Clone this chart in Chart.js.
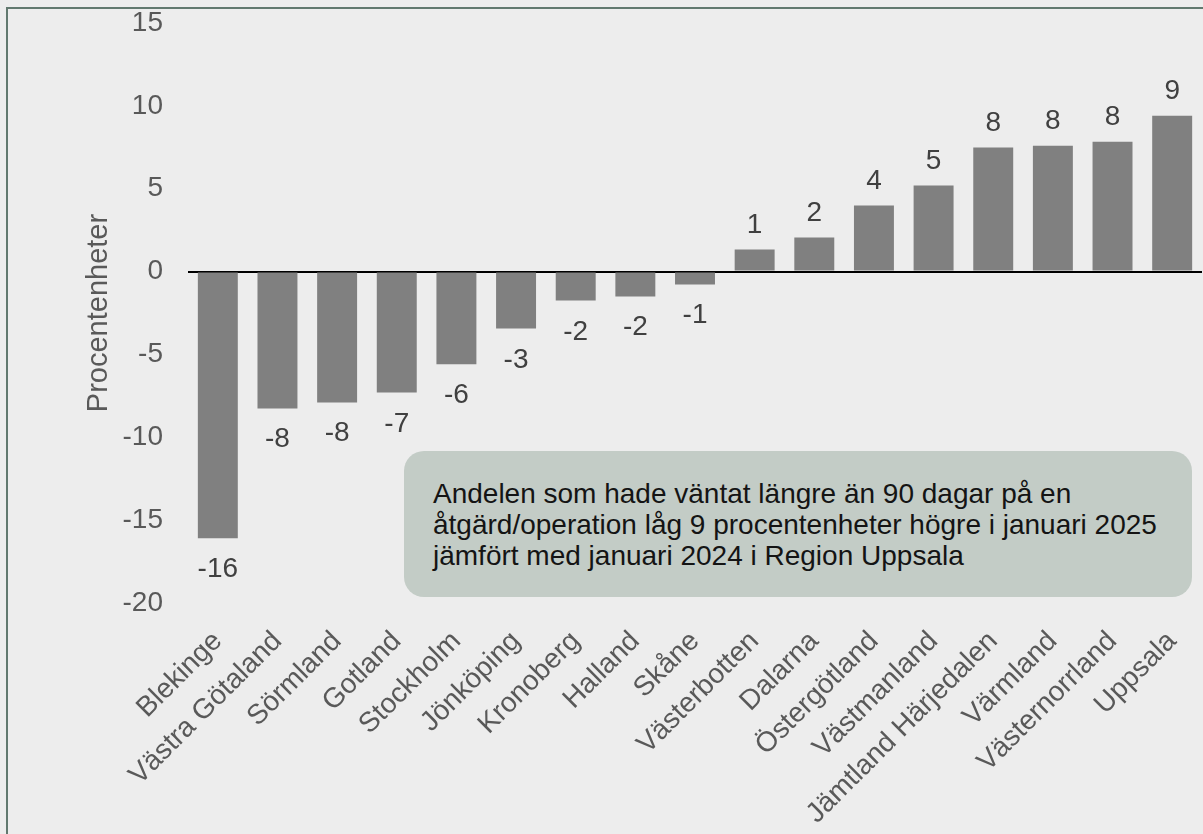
<!DOCTYPE html>
<html>
<head>
<meta charset="utf-8">
<script src="https://cdn.jsdelivr.net/npm/chart.js@4.4.1/dist/chart.umd.min.js"></script>
<style>
  body { margin: 0; background: #ededed; }
  #wrap { position: relative; width: 1203px; height: 834px; overflow: hidden; background: #ededed; }
  #frame { position: absolute; left: 6px; top: 7px; width: 1300px; height: 900px;
           border-left: 2px solid #62796f; border-top: 2px solid #62796f; }
  #chart { position: absolute; left: 0; top: 0; }
  #note { position: absolute; left: 404px; top: 451px; width: 759px; height: 119px;
          padding: 27px 0 0 29px; background: #c3ccc6; border-radius: 20px;
          font-family: "Liberation Sans", Arial, sans-serif; font-size: 28px; line-height: 31px;
          color: #141414; white-space: nowrap; }
</style>
</head>
<body>
<div id="wrap">
  <div id="frame"></div>
  <canvas id="chart" width="1203" height="834"></canvas>
  <div id="note">Andelen som hade väntat längre än 90 dagar på en<br>åtgärd/operation låg 9 procentenheter högre i januari 2025<br>jämfört med januari 2024 i Region Uppsala</div>
</div>
<script>
var regions = ['Blekinge', 'Västra Götaland', 'Sörmland', 'Gotland', 'Stockholm', 'Jönköping',
    'Kronoberg', 'Halland', 'Skåne', 'Västerbotten', 'Dalarna', 'Östergötland', 'Västmanland',
    'Jämtland Härjedalen', 'Värmland', 'Västernorrland', 'Uppsala'];
// change in percentage points, jan 2024 -> jan 2025
var change = [-16.1, -8.26, -7.9, -7.3, -5.6, -3.44, -1.75, -1.5, -0.78,
    1.33, 2.05, 3.98, 5.19, 7.48, 7.6, 7.84, 9.4];
// labels as printed above/below the bars
var changeLabels = [-16, -8, -8, -7, -6, -3, -2, -2, -1, 1, 2, 4, 5, 8, 8, 8, 9];
var yMin = -20, yMax = 15, yStep = 5;

var fontFamily = '"Liberation Sans", Arial, sans-serif';

var barLabels = {
    id: 'barLabels',
    afterDatasetsDraw: function(chart) {
        var ctx = chart.ctx;
        var meta = chart.getDatasetMeta(0);
        ctx.save();
        ctx.font = '28px ' + fontFamily;
        ctx.fillStyle = '#404040';
        ctx.textAlign = 'center';
        ctx.textBaseline = 'alphabetic';
        meta.data.forEach(function(bar, i) {
            var v = change[i];
            var y = v >= 0 ? bar.y - 17 : bar.y + 39;
            ctx.fillText(String(changeLabels[i]), bar.x, y);
        });
        ctx.restore();
    }
};

var ctx = document.getElementById('chart').getContext('2d');
var chart = new Chart(ctx, {
    type: 'bar',
    data: {
        labels: regions,
        datasets: [{
            data: change,
            backgroundColor: '#808080',
            barPercentage: 0.67,
            categoryPercentage: 1
        }]
    },
    options: {
        responsive: false,
        animation: false,
        layout: { padding: { top: 23, right: 1, left: 0, bottom: 0 } },
        plugins: {
            legend: { display: false },
            tooltip: { enabled: false }
        },
        scales: {
            x: {
                grid: { color: 'rgba(0,0,0,0)', tickColor: 'rgba(0,0,0,0)', drawTicks: true, tickLength: 22 },
                border: { display: false },
                ticks: {
                    color: '#595959',
                    font: { family: fontFamily, size: 28 },
                    minRotation: 45,
                    maxRotation: 45,
                    autoSkip: false,
                    padding: 0
                },
                afterFit: function(s) { s.height = 231; }
            },
            y: {
                min: yMin,
                max: yMax,
                grid: {
                    drawTicks: true,
                    tickLength: 25,
                    tickColor: 'rgba(0,0,0,0)',
                    color: function(c) { return c.tick && c.tick.value === 0 ? '#000000' : 'rgba(0,0,0,0)'; },
                    lineWidth: 2
                },
                border: { display: false },
                ticks: {
                    stepSize: yStep,
                    color: '#595959',
                    font: { family: fontFamily, size: 28 },
                    padding: 0
                },
                title: {
                    display: true,
                    text: 'Procentenheter',
                    color: '#595959',
                    font: { family: fontFamily, size: 29 },
                    padding: { top: 82, bottom: 0 }
                },
                afterFit: function(s) { s.width = 188; }
            }
        }
    },
    plugins: [barLabels]
});
</script>
</body>
</html>
